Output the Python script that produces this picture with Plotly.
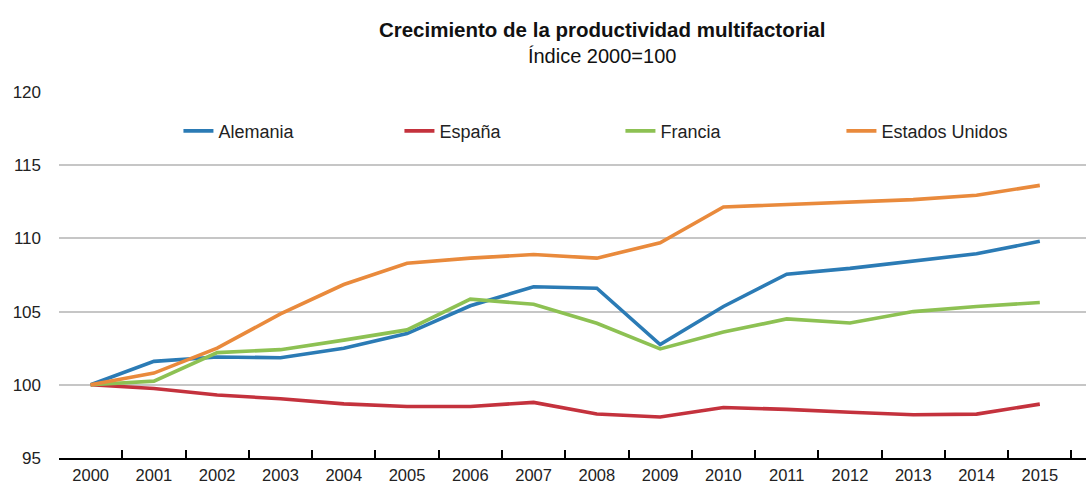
import plotly.graph_objects as go

years = [str(y) for y in range(2000, 2016)]
alemania = [100, 101.6, 101.9, 101.85, 102.5, 103.5, 105.4, 106.7, 106.6, 102.75, 105.35, 107.55, 107.95, 108.45, 108.95, 109.8]
espana = [100, 99.75, 99.3, 99.05, 98.7, 98.52, 98.52, 98.8, 98.0, 97.8, 98.45, 98.32, 98.12, 97.95, 98.0, 98.68]
francia = [100, 100.25, 102.2, 102.4, 103.05, 103.75, 105.85, 105.5, 104.2, 102.45, 103.6, 104.5, 104.22, 105.0, 105.35, 105.62]
eeuu = [100, 100.8, 102.5, 104.85, 106.85, 108.3, 108.65, 108.9, 108.65, 109.7, 112.15, 112.3, 112.5, 112.65, 112.95, 113.62]

series = [
    ("Alemania", alemania, "#2b7bb5"),
    ("España", espana, "#c4323d"),
    ("Francia", francia, "#8dc153"),
    ("Estados Unidos", eeuu, "#e98a3c"),
]

font_family = "Liberation Sans, Arial, sans-serif"

fig = go.Figure()
for name, vals, color in series:
    fig.add_trace(go.Scatter(
        x=years, y=vals, name=name, mode="lines",
        line=dict(color=color, width=3.6),
    ))

fig.update_layout(
    width=1086, height=484,
    template="none",
    paper_bgcolor="white", plot_bgcolor="white",
    margin=dict(l=58.5, r=0, t=92, b=26, autoexpand=False),
    font=dict(family=font_family, size=17, color="#222222"),
    title=dict(
        text="<b>Crecimiento de la productividad multifactorial</b><br><span style='font-size:20px'>Índice 2000=100</span>",
        x=0.5545, xanchor="center", y=0.924, yanchor="middle",
        font=dict(family=font_family, size=20.5, color="#111111"),
    ),
    showlegend=True,
    legend=dict(
        orientation="h", x=0.1163, xanchor="left", y=0.893, yanchor="middle",
        font=dict(family=font_family, size=18, color="#222222"),
        entrywidth=176, entrywidthmode="pixels",
        bgcolor="rgba(0,0,0,0)", itemclick=False,
    ),
    xaxis=dict(
        type="category", range=[-0.5, 15.73],
        showgrid=False, zeroline=False,
        showline=True, linecolor="#000000", linewidth=2,
        ticks="inside", tickson="boundaries", ticklen=8, tickwidth=2, tickcolor="#000000",
        tickfont=dict(size=16.5, color="#222222"),
        ticklabelstandoff=1,
        automargin=False,
    ),
    yaxis=dict(
        range=[95, 120], tickvals=[95, 100, 105, 110, 115, 120],
        showgrid=True, gridcolor="#c6c6c6", gridwidth=2,
        zeroline=False, showline=False, ticks="",
        tickfont=dict(size=17, color="#222222"),
        ticklabelstandoff=17,
        automargin=False,
    ),
)

fig.write_html("out.html")
